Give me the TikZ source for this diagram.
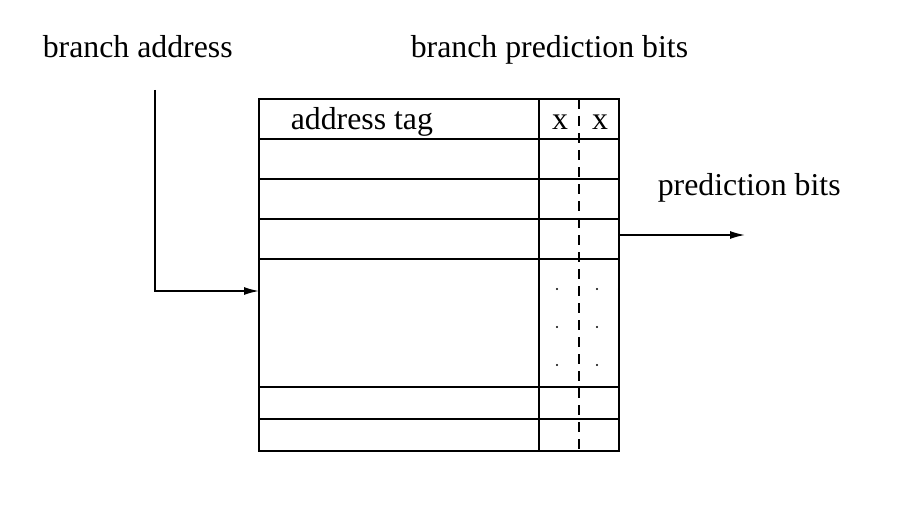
\documentclass[tikz,border=0pt]{standalone}
\usepackage{fontspec}
\setmainfont{Liberation Serif}
\usetikzlibrary{arrows.meta}
\begin{document}
\begin{tikzpicture}[x=1pt, y=-1pt, line width=1.6pt,
    every node/.style={inner sep=0pt, font=\fontsize{31.8}{34}\selectfont},
    lbl/.style={anchor=base west},
    bitsep/.style={dash pattern=on 10pt off 7pt},
    arr/.style={-{Latex[length=15pt,width=8pt]}}]
    \useasboundingbox (0,0) rectangle (904,508);
    % labels
    \node[lbl] (addrlbl) at (42,58) {branch address};
    \node[lbl] (bitslbl) at (410,58) {branch prediction bits};
    \node[lbl] (predlbl) at (657,195) {prediction bits};
    \node[lbl] (taglbl) at (290,129) {address tag};
    \node[anchor=base] (x1) at (560,129) {x};
    \node[anchor=base] (x2) at (600,129) {x};
    % table
    \node[draw, minimum width=360pt, minimum height=352pt] (tbl) at (439,275) {};
    \foreach \y in {139,179,219,259,387,419}
        \draw (259,\y) -- (619,\y);
    \draw (539,99) -- (539,451);
    \draw[bitsep] (579,99) -- (579,451);
    \foreach \y in {289,327,365} {
        \fill (557,\y) circle (1.2pt);
        \fill (597,\y) circle (1.2pt);
    }
    % arrows
    \coordinate (in) at (155,90);
    \coordinate (tblin) at (259,291);
    \coordinate (tblout) at (619,235);
    \coordinate (out) at (745,235);
    \draw[arr] (in) |- (tblin);
    \draw[arr] (tblout) -- (out);
\end{tikzpicture}
\end{document}
